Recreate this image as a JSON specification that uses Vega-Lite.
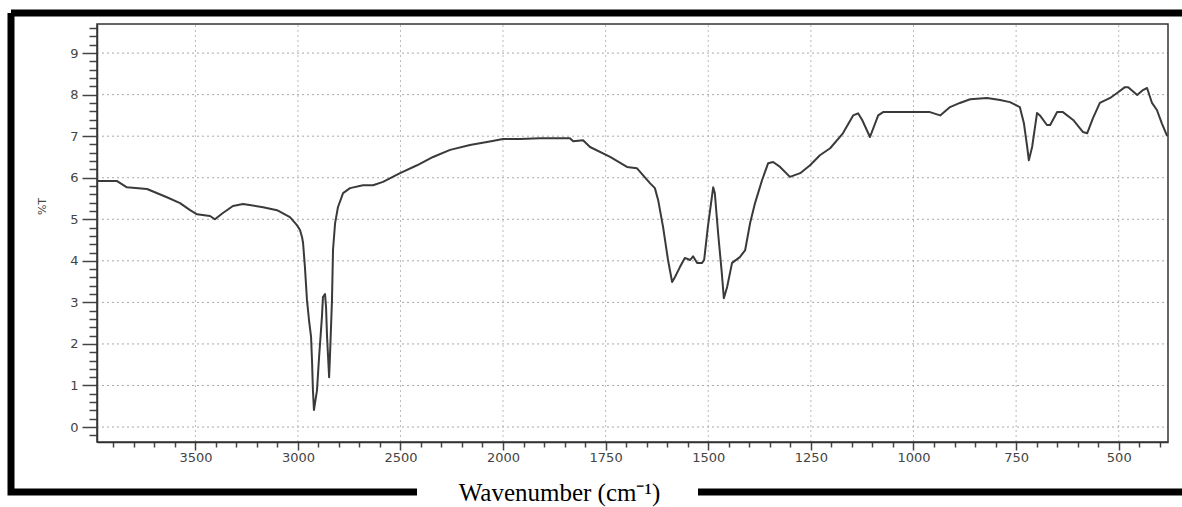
{
  "$schema": "https://vega.github.io/schema/vega-lite/v6.json",
  "width": 1171,
  "height": 479,
  "autosize": {"type": "none"},
  "padding": {"left": 11, "top": 13, "right": 0, "bottom": 15},
  "background": "white",
  "config": {
    "view": {"stroke": "black", "strokeWidth": 7, "strokeDash": [1171, 479, 484, 281, 885, 0], "fill": "white"},
    "axis": {"grid": false}
  },
  "layer": [
    {
      "data": {"values": [{"g": 3500}, {"g": 3000}, {"g": 2500}, {"g": 2000}, {"g": 1750}, {"g": 1500}, {"g": 1250}, {"g": 1000}, {"g": 750}, {"g": 500}]},
      "mark": {"type": "rule", "color": "#bbbbbb", "strokeWidth": 1, "strokeDash": [2, 3]},
      "encoding": {
        "x": {"field": "g", "type": "quantitative", "scale": {"domain": [3980, 2000, 380], "range": [86, 492, 1157], "nice": false, "zero": false}},
        "y": {"datum": -0.36, "type": "quantitative", "scale": {"domain": [-0.36, 9.7], "range": [429, 11], "nice": false, "zero": false}},
        "y2": {"datum": 9.7}
      }
    },
    {
      "data": {"values": [{"h": 0}, {"h": 1}, {"h": 2}, {"h": 3}, {"h": 4}, {"h": 5}, {"h": 6}, {"h": 7}, {"h": 8}, {"h": 9}]},
      "mark": {"type": "rule", "color": "#a8a8a8", "strokeWidth": 1, "strokeDash": [2, 3]},
      "encoding": {
        "y": {"field": "h", "type": "quantitative", "scale": {"domain": [-0.36, 9.7], "range": [429, 11], "nice": false, "zero": false}},
        "x": {"datum": 3980, "type": "quantitative", "scale": {"domain": [3980, 2000, 380], "range": [86, 492, 1157], "nice": false, "zero": false}},
        "x2": {"datum": 380}
      }
    },
    {
      "data": {"values": [{"box": "plot"}]},
      "mark": {"type": "rect", "fill": null, "filled": false, "stroke": "#333333", "strokeWidth": 1.5},
      "encoding": {
        "x": {"datum": 3980, "type": "quantitative", "scale": {"domain": [3980, 2000, 380], "range": [86, 492, 1157], "nice": false, "zero": false}},
        "x2": {"datum": 380},
        "y": {"datum": -0.36, "type": "quantitative", "scale": {"domain": [-0.36, 9.7], "range": [429, 11], "nice": false, "zero": false}},
        "y2": {"datum": 9.7}
      }
    },
    {
      "data": {"values": [
        {"w": 3980, "t": 5.92}, {"w": 3882, "t": 5.92}, {"w": 3834, "t": 5.77}, {"w": 3736, "t": 5.73}, {"w": 3639, "t": 5.53},
        {"w": 3575, "t": 5.39}, {"w": 3526, "t": 5.22}, {"w": 3492, "t": 5.12}, {"w": 3429, "t": 5.08}, {"w": 3405, "t": 5.0},
        {"w": 3366, "t": 5.15}, {"w": 3317, "t": 5.32}, {"w": 3268, "t": 5.37}, {"w": 3170, "t": 5.29}, {"w": 3102, "t": 5.22},
        {"w": 3039, "t": 5.05}, {"w": 3005, "t": 4.86}, {"w": 2990, "t": 4.74}, {"w": 2980, "t": 4.57}, {"w": 2975, "t": 4.43},
        {"w": 2966, "t": 3.85}, {"w": 2956, "t": 3.06}, {"w": 2946, "t": 2.57}, {"w": 2936, "t": 2.17}, {"w": 2931, "t": 1.54},
        {"w": 2927, "t": 0.89}, {"w": 2922, "t": 0.41}, {"w": 2907, "t": 0.89}, {"w": 2897, "t": 1.68}, {"w": 2883, "t": 2.65},
        {"w": 2878, "t": 3.13}, {"w": 2868, "t": 3.2}, {"w": 2863, "t": 2.89}, {"w": 2858, "t": 2.17}, {"w": 2848, "t": 1.2},
        {"w": 2844, "t": 1.68}, {"w": 2834, "t": 3.06}, {"w": 2829, "t": 4.26}, {"w": 2819, "t": 4.9}, {"w": 2805, "t": 5.29},
        {"w": 2780, "t": 5.63}, {"w": 2746, "t": 5.75}, {"w": 2683, "t": 5.82}, {"w": 2634, "t": 5.82}, {"w": 2585, "t": 5.9},
        {"w": 2502, "t": 6.11}, {"w": 2419, "t": 6.3}, {"w": 2341, "t": 6.5}, {"w": 2258, "t": 6.67}, {"w": 2161, "t": 6.79},
        {"w": 2058, "t": 6.88}, {"w": 2000, "t": 6.93}, {"w": 1959, "t": 6.93}, {"w": 1910, "t": 6.95}, {"w": 1885, "t": 6.95},
        {"w": 1837, "t": 6.95}, {"w": 1829, "t": 6.88}, {"w": 1805, "t": 6.9}, {"w": 1788, "t": 6.74}, {"w": 1739, "t": 6.5},
        {"w": 1698, "t": 6.26}, {"w": 1674, "t": 6.23}, {"w": 1642, "t": 5.87}, {"w": 1630, "t": 5.75}, {"w": 1622, "t": 5.46},
        {"w": 1610, "t": 4.81}, {"w": 1598, "t": 4.02}, {"w": 1588, "t": 3.49}, {"w": 1581, "t": 3.61}, {"w": 1569, "t": 3.85},
        {"w": 1557, "t": 4.07}, {"w": 1544, "t": 4.02}, {"w": 1537, "t": 4.11}, {"w": 1527, "t": 3.95}, {"w": 1515, "t": 3.95},
        {"w": 1510, "t": 4.02}, {"w": 1501, "t": 4.81}, {"w": 1488, "t": 5.77}, {"w": 1484, "t": 5.63}, {"w": 1476, "t": 4.67},
        {"w": 1467, "t": 3.71}, {"w": 1462, "t": 3.1}, {"w": 1454, "t": 3.37}, {"w": 1442, "t": 3.95}, {"w": 1423, "t": 4.09},
        {"w": 1410, "t": 4.26}, {"w": 1398, "t": 4.91}, {"w": 1386, "t": 5.39}, {"w": 1369, "t": 5.94}, {"w": 1354, "t": 6.35},
        {"w": 1342, "t": 6.38}, {"w": 1325, "t": 6.26}, {"w": 1301, "t": 6.02}, {"w": 1276, "t": 6.11}, {"w": 1252, "t": 6.3},
        {"w": 1228, "t": 6.54}, {"w": 1203, "t": 6.71}, {"w": 1172, "t": 7.07}, {"w": 1147, "t": 7.5}, {"w": 1135, "t": 7.55},
        {"w": 1125, "t": 7.39}, {"w": 1106, "t": 6.98}, {"w": 1086, "t": 7.5}, {"w": 1074, "t": 7.58}, {"w": 1040, "t": 7.58},
        {"w": 960, "t": 7.58}, {"w": 935, "t": 7.5}, {"w": 911, "t": 7.7}, {"w": 887, "t": 7.8}, {"w": 862, "t": 7.89},
        {"w": 821, "t": 7.92}, {"w": 789, "t": 7.87}, {"w": 765, "t": 7.82}, {"w": 741, "t": 7.7}, {"w": 731, "t": 7.31},
        {"w": 723, "t": 6.74}, {"w": 719, "t": 6.42}, {"w": 711, "t": 6.74}, {"w": 699, "t": 7.56}, {"w": 692, "t": 7.5},
        {"w": 675, "t": 7.27}, {"w": 667, "t": 7.27}, {"w": 650, "t": 7.58}, {"w": 636, "t": 7.58}, {"w": 611, "t": 7.39},
        {"w": 587, "t": 7.1}, {"w": 577, "t": 7.07}, {"w": 563, "t": 7.43}, {"w": 546, "t": 7.8}, {"w": 521, "t": 7.92},
        {"w": 504, "t": 8.04}, {"w": 485, "t": 8.18}, {"w": 477, "t": 8.18}, {"w": 455, "t": 7.99}, {"w": 441, "t": 8.11},
        {"w": 431, "t": 8.16}, {"w": 419, "t": 7.8}, {"w": 407, "t": 7.63}, {"w": 395, "t": 7.31}, {"w": 382, "t": 7.0}
      ]},
      "mark": {"type": "line", "color": "#3a3a3a", "strokeWidth": 2, "strokeJoin": "round"},
      "encoding": {
        "x": {
          "field": "w", "type": "quantitative", "sort": null,
          "scale": {"domain": [3980, 2000, 380], "range": [86, 492, 1157], "nice": false, "zero": false},
          "axis": {
            "orient": "bottom", "offset": -50, "tickCount": 1000,
            "values": [3900, 3800, 3700, 3600, 3500, 3400, 3300, 3200, 3100, 3000, 2900, 2800, 2700, 2600, 2500, 2400, 2300, 2200, 2100, 2000, 1950, 1900, 1850, 1800, 1750, 1700, 1650, 1600, 1550, 1500, 1450, 1400, 1350, 1300, 1250, 1200, 1150, 1100, 1050, 1000, 950, 900, 850, 800, 750, 700, 650, 600, 550, 500, 450, 400],
            "format": "d",
            "labelExpr": "(datum.value % 500 === 0 || (datum.value < 2000 && datum.value % 250 === 0)) ? datum.label : ''",
            "tickSize": {"condition": {"test": "datum.value % 500 === 0 || (datum.value < 2000 && datum.value % 250 === 0)", "value": 8}, "value": 5},
            "tickColor": "#444444", "tickWidth": 1.5,
            "domain": true, "domainColor": "#333333", "domainWidth": 1.5,
            "labelFont": "DejaVu Sans", "labelFontSize": 13, "labelColor": "#444444", "labelPadding": 1,
            "labelOverlap": false, "labelFlush": false, "labelBound": false,
            "title": "Wavenumber (cm⁻¹)", "titleFont": "Liberation Serif", "titleFontSize": 25, "titleFontWeight": "normal",
            "titleColor": "black", "titleX": 548, "titleY": 58, "titleBaseline": "alphabetic", "titleAlign": "center", "titlePadding": 0
          }
        },
        "y": {
          "field": "t", "type": "quantitative",
          "scale": {"domain": [-0.36, 9.7], "range": [429, 11], "nice": false, "zero": false},
          "axis": {
            "orient": "left", "offset": -86, "tickCount": 1000, "tickMinStep": 0.1,
            "values": [-0.2, 0, 0.2, 0.4, 0.6, 0.8, 1, 1.2, 1.4, 1.6, 1.8, 2, 2.2, 2.4, 2.6, 2.8, 3, 3.2, 3.4, 3.6, 3.8, 4, 4.2, 4.4, 4.6, 4.8, 5, 5.2, 5.4, 5.6, 5.8, 6, 6.2, 6.4, 6.6, 6.8, 7, 7.2, 7.4, 7.6, 7.8, 8, 8.2, 8.4, 8.6, 8.8, 9, 9.2, 9.4, 9.6],
            "labelExpr": "abs(datum.value % 1) < 0.001 ? format(datum.value, 'd') : ''",
            "tickSize": {"condition": {"test": "abs(datum.value % 1) < 0.001", "value": 15}, "value": 8},
            "tickColor": "#444444", "tickWidth": 1.5,
            "domain": true, "domainColor": "#333333", "domainWidth": 1.5,
            "labelFont": "DejaVu Sans", "labelFontSize": 13, "labelColor": "#444444", "labelPadding": 4,
            "labelOverlap": false, "labelFlush": false, "labelBound": false,
            "title": "%T", "titleFont": "DejaVu Sans", "titleFontSize": 11, "titleFontWeight": "normal", "titleColor": "#444444",
            "titleX": -55, "titleY": 193, "titleAngle": 270, "titleAlign": "center", "titleBaseline": "middle"
          }
        }
      }
    }
  ]
}
